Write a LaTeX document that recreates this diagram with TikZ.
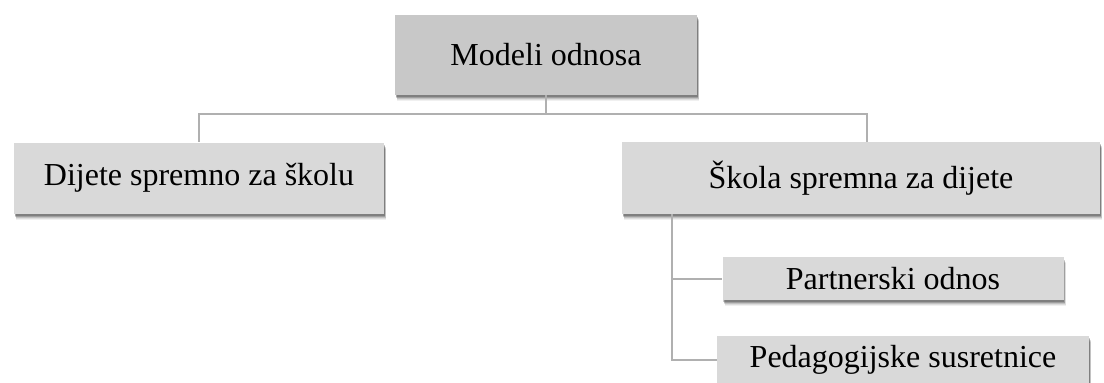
\documentclass[tikz,border=0pt]{standalone}
\usepackage{fontspec}
\setmainfont{Liberation Serif}
\usetikzlibrary{shadows}
\begin{document}
\begin{tikzpicture}[x=1pt,y=-1pt,
  softshadow/.style={
    general shadow={shadow xshift=2pt, shadow yshift=-6pt, fill=black, opacity=0.06},
    general shadow={shadow xshift=2pt, shadow yshift=-5pt, fill=black, opacity=0.08},
    general shadow={shadow xshift=1.5pt, shadow yshift=-4pt, fill=black, opacity=0.12},
    general shadow={shadow xshift=1pt, shadow yshift=-3pt, fill=black, opacity=0.18},
    general shadow={shadow xshift=0.5pt, shadow yshift=-2pt, fill=black, opacity=0.2}},
  box/.style={fill=boxfill, draw=none, inner sep=0pt, align=center,
    font=\fontsize{32}{38}\selectfont, softshadow},
  link/.style={draw=linkgray, line width=2pt}]
\definecolor{boxfill}{HTML}{D9D9D9}
\definecolor{topfill}{HTML}{C8C8C8}
\definecolor{linkgray}{HTML}{B0B0B0}
\useasboundingbox (0,0) rectangle (1104,383);
\clip (0,0) rectangle (1104,383);

% tree nodes
\node[box, fill=topfill, minimum width=302pt, minimum height=80pt] (root) at (546,55) {Modeli odnosa};
\node[box, minimum width=370pt, minimum height=71pt] (child) at (199,178) {Dijete spremno za školu};
\node[box, minimum width=478pt, minimum height=72pt] (school) at (861,178) {Škola spremna za dijete};
\node[box, minimum width=341pt, minimum height=43pt] (partner) at (893,278.5) {Partnerski odnos};
\node[box, minimum width=372pt, minimum height=48pt] (pedag) at (903,360) {Pedagogijske susretnice};

% connectors
\coordinate (bus) at (546,114);
\draw[link] (root.south) -- (bus);
\draw[link] (bus) -| (child.north -| 199,0);
\draw[link] (bus) -| (school.north -| 867,0);
\coordinate (trunk) at (672,214);
\draw[link] (trunk) |- (partner.west);
\draw[link] (trunk) |- (pedag.west);
\end{tikzpicture}
\end{document}
